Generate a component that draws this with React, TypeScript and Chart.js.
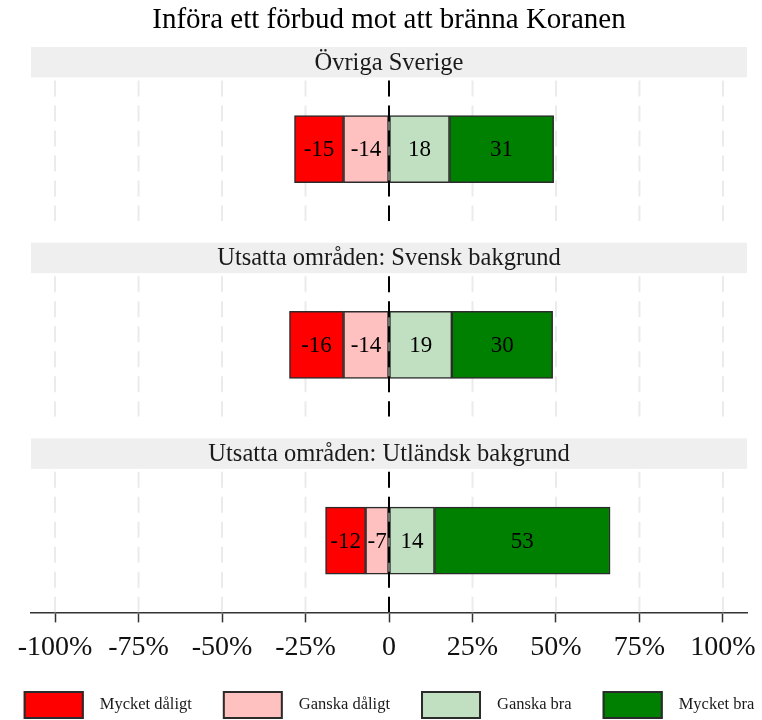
import React, { useEffect, useRef } from 'react';
import { Chart, registerables } from 'chart.js';

Chart.register(...registerables);

// ---------- data ----------
const TITLE = 'Införa ett förbud mot att bränna Koranen';
const PANELS = ['Övriga Sverige', 'Utsatta områden: Svensk bakgrund', 'Utsatta områden: Utländsk bakgrund'];
const SERIES = ['Mycket dåligt', 'Ganska dåligt', 'Ganska bra', 'Mycket bra'];
const MYCKET_DALIGT = [-14.7, -16.2, -12.0];
const GANSKA_DALIGT = [-13.6, -13.6, -7.0];
const GANSKA_BRA = [18.1, 18.8, 13.6];
const MYCKET_BRA = [31.2, 30.2, 52.6];
const X_TICKS = [-100, -75, -50, -25, 0, 25, 50, 75, 100];
const X_TICK_LABELS = ['-100%', '-75%', '-50%', '-25%', '0', '25%', '50%', '75%', '100%'];

// ---------- style ----------
const COLORS = ['#FF0000', '#FFC0C0', '#C1E0C1', '#008000'];
const FONT = "'Liberation Serif', 'DejaVu Serif', serif";
const BORDER = '#2b2b2b';
const X_MIN = -107.2;
const X_MAX = 107.2;
const Y_MIN = -0.522;
const Y_MAX = 2.367;
const STRIP_OFF = 0.522;
const PANEL_HALF = 0.3665;

const panelPlugin = {
  id: 'panels',
  beforeDatasetsDraw(chart: any) {
    const { ctx, chartArea, scales } = chart;
    const y = scales.y;
    const x = scales.x;
    ctx.save();
    PANELS.forEach((name, i) => {
      const sTop = y.getPixelForValue(i - STRIP_OFF);
      const sBot = y.getPixelForValue(i - PANEL_HALF);
      const pBot = y.getPixelForValue(i + PANEL_HALF);
      ctx.fillStyle = '#EFEFEF';
      ctx.fillRect(chartArea.left, sTop, chartArea.right - chartArea.left, sBot - sTop);
      ctx.fillStyle = '#1a1a1a';
      ctx.font = `24.5px ${FONT}`;
      ctx.textAlign = 'center';
      ctx.textBaseline = 'middle';
      ctx.fillText(name, (chartArea.left + chartArea.right) / 2, (sTop + sBot) / 2 + 1);
      ctx.strokeStyle = '#EBEBEB';
      ctx.lineWidth = 2;
      ctx.setLineDash([16, 9]);
      X_TICKS.forEach((t) => {
        const px = x.getPixelForValue(t);
        ctx.beginPath();
        ctx.moveTo(px, sBot + 3);
        ctx.lineTo(px, pBot);
        ctx.stroke();
      });
    });
    ctx.restore();
  },
  afterDatasetsDraw(chart: any) {
    const { ctx, scales } = chart;
    const y = scales.y;
    const x = scales.x;
    ctx.save();
    // zero line
    ctx.strokeStyle = '#000';
    ctx.lineWidth = 2;
    ctx.setLineDash([16, 9]);
    PANELS.forEach((_, i) => {
      const sBot = y.getPixelForValue(i - PANEL_HALF);
      const pBot = y.getPixelForValue(i + PANEL_HALF);
      const px = x.getPixelForValue(0);
      ctx.beginPath();
      ctx.moveTo(px, sBot + 3);
      ctx.lineTo(px, pBot);
      ctx.stroke();
    });
    ctx.setLineDash([]);
    // value labels
    ctx.fillStyle = '#000';
    ctx.font = `23px ${FONT}`;
    ctx.textAlign = 'center';
    ctx.textBaseline = 'middle';
    chart.data.datasets.forEach((ds: any, di: number) => {
      const meta = chart.getDatasetMeta(di);
      meta.data.forEach((el: any, i: number) => {
        const p = el.getProps(['x', 'base', 'y'], true);
        const v = ds.data[i].x;
        ctx.fillText(String(Math.round(v)), (p.x + p.base) / 2, p.y + 1);
      });
    });
    ctx.restore();
  },
  afterDraw(chart: any) {
    const { ctx, chartArea } = chart;
    ctx.save();
    ctx.font = `16.5px ${FONT}`;
    const boxW = 60;
    const boxH = 28;
    const textGap = 16;
    const itemGap = 31;
    const widths = SERIES.map((s) => boxW + textGap + ctx.measureText(s).width);
    const total = widths.reduce((a, b) => a + b, 0) + itemGap * (SERIES.length - 1);
    let cx = (chartArea.left + chartArea.right) / 2 - total / 2;
    const top = 691;
    SERIES.forEach((s, i) => {
      ctx.fillStyle = COLORS[i];
      ctx.fillRect(cx, top, boxW, boxH);
      ctx.strokeStyle = BORDER;
      ctx.lineWidth = 2;
      ctx.strokeRect(cx + 1, top + 1, boxW - 2, boxH - 2);
      ctx.fillStyle = '#1a1a1a';
      ctx.textAlign = 'left';
      ctx.textBaseline = 'middle';
      ctx.fillText(s, cx + boxW + textGap, top + boxH / 2);
      cx += widths[i] + itemGap;
    });
    ctx.restore();
  },
};

export default function App() {
  const ref = useRef<HTMLCanvasElement>(null);
  useEffect(() => {
    if (!ref.current) return;
    const mk = (label: string, vals: number[], color: string) => ({
      label,
      data: vals.map((v, i) => ({ x: v, y: i })),
      backgroundColor: color,
      borderColor: BORDER,
      borderWidth: 1.5,
      borderSkipped: false,
      barThickness: 67,
      stack: 's',
    });
    const chart = new Chart(ref.current, {
      type: 'bar',
      data: {
        datasets: [
          mk(SERIES[1], GANSKA_DALIGT, COLORS[1]),
          mk(SERIES[0], MYCKET_DALIGT, COLORS[0]),
          mk(SERIES[2], GANSKA_BRA, COLORS[2]),
          mk(SERIES[3], MYCKET_BRA, COLORS[3]),
        ] as any,
      },
      options: {
        indexAxis: 'y',
        responsive: false,
        animation: false,
        devicePixelRatio: 1,
        layout: { padding: { top: 2, left: 31, right: 15, bottom: 48 } },
        plugins: {
          legend: { display: false },
          tooltip: { enabled: false },
          title: {
            display: true,
            text: TITLE,
            color: '#000',
            font: { family: FONT, size: 29, weight: 'normal' },
            padding: { top: 1, bottom: 9.2 },
          },
        },
        scales: {
          x: {
            type: 'linear',
            stacked: true,
            bounds: 'data',
            min: X_MIN,
            max: X_MAX,
            afterBuildTicks: (scale: any) => {
              scale.ticks = X_TICKS.map((v) => ({ value: v }));
            },
            afterFit: (scale: any) => {
              scale.paddingLeft = 0;
              scale.paddingRight = 0;
            },
            grid: {
              drawOnChartArea: false,
              drawTicks: true,
              tickLength: 10,
              tickColor: '#333',
              tickWidth: 1.5,
            },
            border: { display: true, color: '#333', width: 1.5 },
            ticks: {
              autoSkip: false,
              maxRotation: 0,
              padding: 8,
              color: '#111',
              font: { family: FONT, size: 28 },
              callback: (v: any) => {
                const idx = X_TICKS.indexOf(Number(v));
                return idx >= 0 ? X_TICK_LABELS[idx] : '';
              },
            },
          },
          y: {
            type: 'linear',
            stacked: true,
            bounds: 'data',
            reverse: true,
            min: Y_MIN,
            max: Y_MAX,
            display: false,
            afterBuildTicks: (scale: any) => {
              scale.ticks = [];
            },
          },
        },
      },
      plugins: [panelPlugin],
    } as any);
    return () => chart.destroy();
  }, []);
  return (
    <div style={{ position: 'fixed', left: 0, top: 0, width: 762, height: 720, background: '#fff' }}>
      <canvas ref={ref} width={762} height={720} style={{ display: 'block' }} />
    </div>
  );
}
